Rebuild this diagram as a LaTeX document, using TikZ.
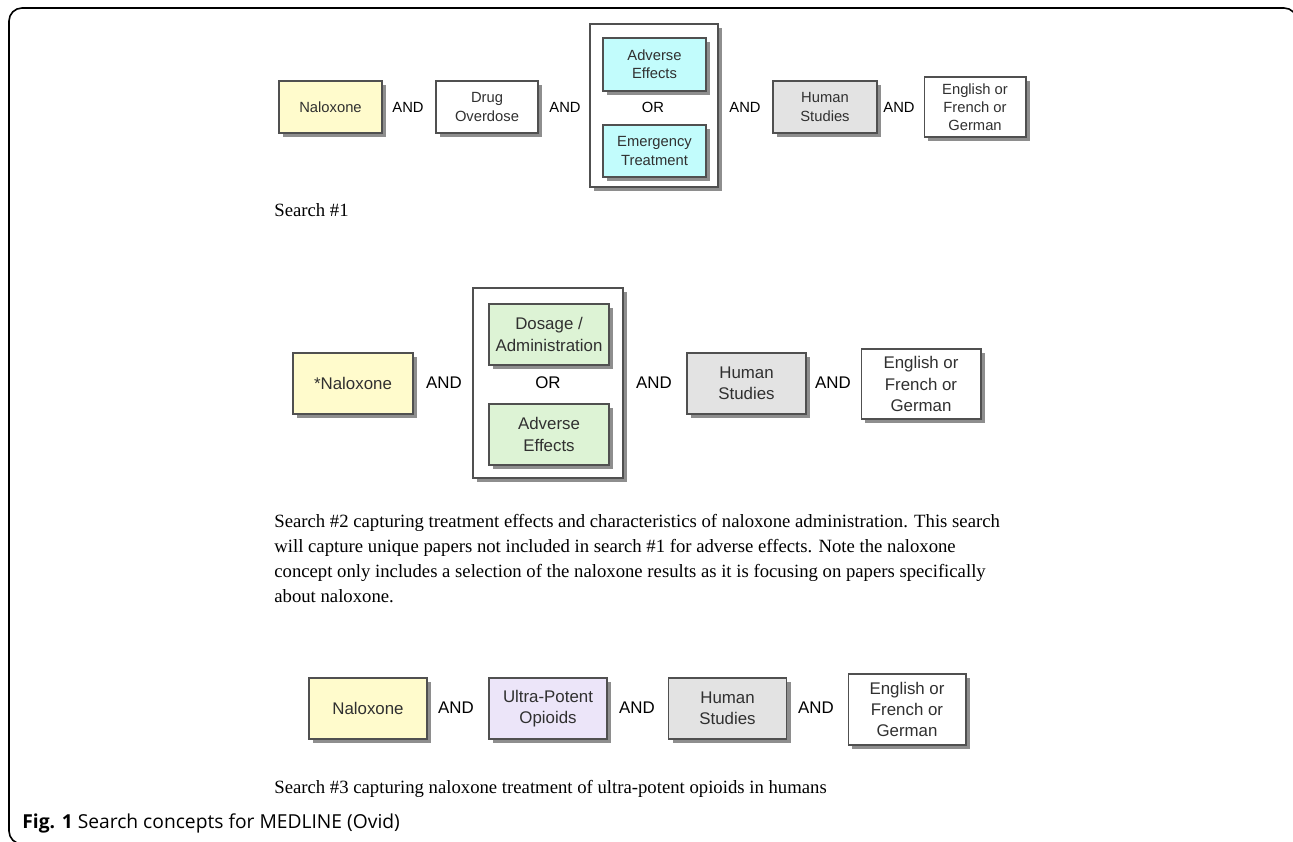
\documentclass[tikz,border=0pt]{standalone}
\usepackage{fontspec}
\setmainfont{Liberation Serif}
\setsansfont{Liberation Sans}
\newfontfamily\capfont{Open Sans}
\usetikzlibrary{shadows}
\definecolor{naloxyellow}{HTML}{FFFBCC}
\definecolor{effectcyan}{HTML}{C2FCFC}
\definecolor{dosegreen}{HTML}{DDF3D5}
\definecolor{humangray}{HTML}{E3E3E3}
\definecolor{opioidlilac}{HTML}{ECE5F9}
\definecolor{boxline}{HTML}{505050}
\definecolor{boxtext}{HTML}{303030}
\definecolor{shadowgray}{HTML}{8E8E8E}
\begin{document}
\begin{tikzpicture}[x=0.02cm,y=-0.02cm]
            \tikzstyle{every node}=[inner sep=0pt]
            \tikzstyle{concept}=[rectangle,draw=boxline,line width=0.6pt,fill=white,text=boxtext,align=center,
                drop shadow={shadow xshift=0.08cm,shadow yshift=-0.08cm,fill=shadowgray,opacity=1}]
            \tikzstyle{small}=[font=\sffamily\fontsize{8.4}{10.4}\selectfont]
            \tikzstyle{large}=[font=\sffamily\fontsize{9.6}{12}\selectfont]
            \tikzstyle{para}=[anchor=base west,font=\fontsize{10.65}{12}\selectfont]
            \useasboundingbox (0,0) rectangle (1293,841);
            \draw[line width=0.9pt,rounded corners=0.26cm] (60,844) -- (9,844) -- (9,8) -- (1297,8) -- (1297,40);
            % search 1
            \draw (330.5,107) node [concept,small,fill=naloxyellow,minimum width=2.06cm,minimum height=1.04cm] (nal1) {Naloxone};
            \draw (487,107) node [concept,small,minimum width=2.04cm,minimum height=1.04cm] (drug1) {Drug\\Overdose};
            \draw (654,105.5) node [concept,minimum width=2.56cm,minimum height=3.26cm] (or1) {};
            \draw (654.5,64.5) node [concept,small,fill=effectcyan,minimum width=2.06cm,minimum height=1.06cm] (adv1) {Adverse\\Effects};
            \draw (654.5,151) node [concept,small,fill=effectcyan,minimum width=2.06cm,minimum height=1.04cm] (emer1) {Emergency\\Treatment};
            \draw (825,107) node [concept,small,fill=humangray,minimum width=2.08cm,minimum height=1.04cm] (hum1) {Human\\Studies};
            \draw (975,107) node [concept,small,minimum width=2.04cm,minimum height=1.2cm] (eng1) {English or\\French or\\German};
            \draw (408,107) node [small] (and1a) {AND};
            \draw (565,107) node [small] (and1b) {AND};
            \draw (653,107) node [small] (or1t) {OR};
            \draw (745,107) node [small] (and1c) {AND};
            \draw (899,107) node [small] (and1d) {AND};
            \draw (274,216) node [para] (cap1) {Search \#1};
            % search 2
            \draw (353,383.5) node [concept,large,fill=naloxyellow,minimum width=2.4cm,minimum height=1.22cm] (nal2) {*Naloxone};
            \draw (548,383) node [concept,minimum width=3cm,minimum height=3.8cm] (or2) {};
            \draw (549,334.5) node [concept,large,fill=dosegreen,minimum width=2.4cm,minimum height=1.22cm] (dos2) {Dosage /\\Administration};
            \draw (549,434.5) node [concept,large,fill=dosegreen,minimum width=2.4cm,minimum height=1.22cm] (adv2) {Adverse\\Effects};
            \draw (746.5,383.5) node [concept,large,fill=humangray,minimum width=2.38cm,minimum height=1.22cm] (hum2) {Human\\Studies};
            \draw (921,384) node [concept,large,minimum width=2.4cm,minimum height=1.4cm] (eng2) {English or\\French or\\German};
            \draw (444,383) node [large] (and2a) {AND};
            \draw (548,383) node [large] (or2t) {OR};
            \draw (654,383) node [large] (and2b) {AND};
            \draw (833,383) node [large] (and2c) {AND};
            \draw (274,527) node [para] (cap2a) {Search \#2 capturing treatment effects and characteristics of naloxone administration. This search};
            \draw (274,552) node [para] (cap2b) {will capture unique papers not included in search \#1 for adverse effects. Note the naloxone};
            \draw (274,577) node [para] (cap2c) {concept only includes a selection of the naloxone results as it is focusing on papers specifically};
            \draw (274,602) node [para] (cap2d) {about naloxone.};
            % search 3
            \draw (368,708.5) node [concept,large,fill=naloxyellow,minimum width=2.36cm,minimum height=1.22cm] (nal3) {Naloxone};
            \draw (548,708.5) node [concept,large,fill=opioidlilac,minimum width=2.36cm,minimum height=1.22cm] (ult3) {Ultra-Potent\\Opioids};
            \draw (727.5,708.5) node [concept,large,fill=humangray,minimum width=2.36cm,minimum height=1.22cm] (hum3) {Human\\Studies};
            \draw (907,709.5) node [concept,large,minimum width=2.36cm,minimum height=1.42cm] (eng3) {English or\\French or\\German};
            \draw (456,708) node [large] (and3a) {AND};
            \draw (637,708) node [large] (and3b) {AND};
            \draw (816,708) node [large] (and3c) {AND};
            \draw (274,793) node [para] (cap3) {Search \#3 capturing naloxone treatment of ultra-potent opioids in humans};
            \draw (22,828) node [anchor=base west,font=\capfont\fontsize{10.95}{12}\selectfont] (fig) {\textbf{Fig. 1} Search concepts for MEDLINE (Ovid)};
        \end{tikzpicture}
\end{document}
